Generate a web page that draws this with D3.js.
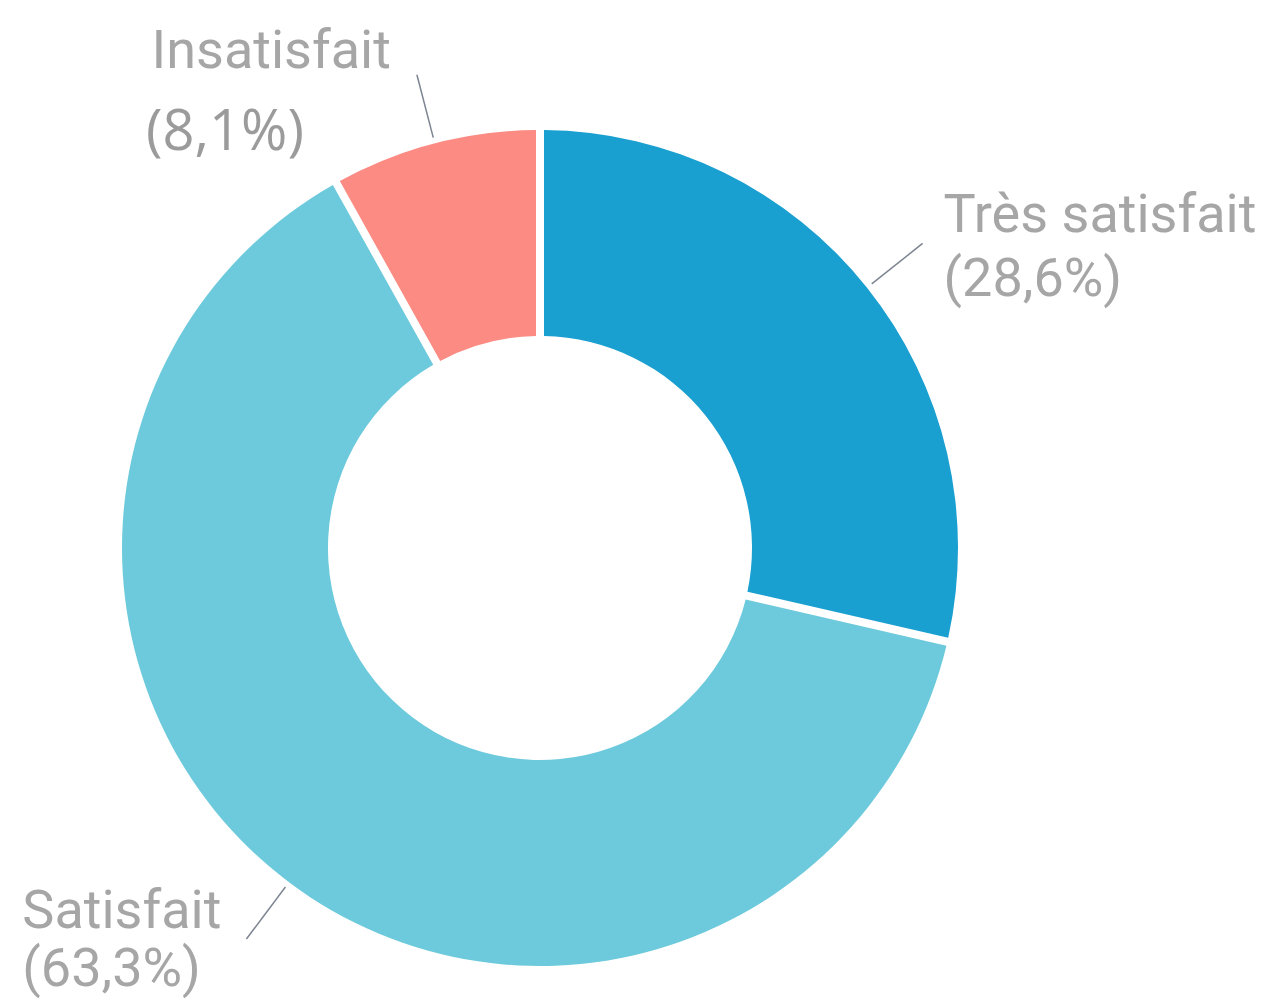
<!DOCTYPE html>
<html>
<head>
<meta charset="utf-8">
<script src="https://cdn.jsdelivr.net/npm/d3@7"></script>
<style>
  html, body { margin: 0; padding: 0; background: #fff; }
  .lbl { font-family: Roboto, sans-serif; font-size: 54px; fill: #a6a6a6; }
  .pct-alt { font-family: "Open Sans", sans-serif; font-size: 56px; fill: #9b9b9b; }
  .leader { stroke: #7d8592; stroke-width: 1.5px; fill: none; }
</style>
</head>
<body>
<div id="chart"></div>
<script>
// Chart dimensions
var width  = 1265;
var height = 1004;

// Survey results (share of answers)
var categories = ['Très satisfait', 'Satisfait', 'Insatisfait'];
var shares     = [28.6, 63.3, 8.1];
var pctLabels  = ['(28,6%)', '(63,3%)', '(8,1%)'];
var colors     = ['#199fd0', '#6ccadc', '#fb8b83'];

var cx = 540, cy = 548;
var outerR = 418, innerR = 212;

var svg = d3.select('#chart').append('svg')
    .attr('width', width)
    .attr('height', height);

var g = svg.append('g')
    .attr('transform', 'translate(' + cx + ',' + cy + ')');

var data = categories.map(function(c, i) {
    return { name: c, value: shares[i], pct: pctLabels[i], color: colors[i] };
});

var pie = d3.pie()
    .sort(null)
    .value(d => d.value);

var arc = d3.arc()
    .innerRadius(innerR)
    .outerRadius(outerR)
    .padRadius(outerR)
    .padAngle(8 / outerR);

var arcs = pie(data);

// Slices
g.selectAll('path.slice')
    .data(arcs)
    .enter()
    .append('path')
    .attr('class', 'slice')
    .attr('fill', d => d.data.color)
    .attr('d', arc);

// Leader lines, radial from the slice middle
function polar(a, r) {
    return [r * Math.sin(a), -r * Math.cos(a)];
}

arcs.forEach(function(d) {
    var mid = (d.startAngle + d.endAngle) / 2;
    var p0 = polar(mid, outerR + 6);
    var p1 = polar(mid, outerR + 71);
    g.append('line')
        .attr('class', 'leader')
        .attr('x1', p0[0]).attr('y1', p0[1])
        .attr('x2', p1[0]).attr('y2', p1[1]);
    d.end = p1;
});

// Labels
arcs.forEach(function(d) {
    var e = d.end;
    var right = e[0] > 0;
    if (right) {
        g.append('text').attr('class', 'lbl')
            .attr('x', e[0] + 21).attr('y', e[1] - 11)
            .text(d.data.name);
        g.append('text').attr('class', 'lbl')
            .attr('x', e[0] + 21).attr('y', e[1] + 53)
            .text(d.data.pct);
    } else if (d.data.name === 'Insatisfait') {
        g.append('text').attr('class', 'lbl')
            .attr('text-anchor', 'end')
            .attr('x', e[0] - 26).attr('y', e[1] - 7)
            .text(d.data.name);
        g.append('text').attr('class', 'pct-alt')
            .attr('text-anchor', 'end')
            .attr('x', e[0] - 113).attr('y', e[1] + 75)
            .text(d.data.pct);
    } else {
        var t1 = g.append('text').attr('class', 'lbl')
            .attr('text-anchor', 'end')
            .attr('x', e[0] - 25).attr('y', e[1] - 11)
            .text(d.data.name);
        var w = t1.node().getComputedTextLength();
        g.append('text').attr('class', 'lbl')
            .attr('x', e[0] - 25 - w).attr('y', e[1] + 47)
            .text(d.data.pct);
    }
});
</script>
</body>
</html>
